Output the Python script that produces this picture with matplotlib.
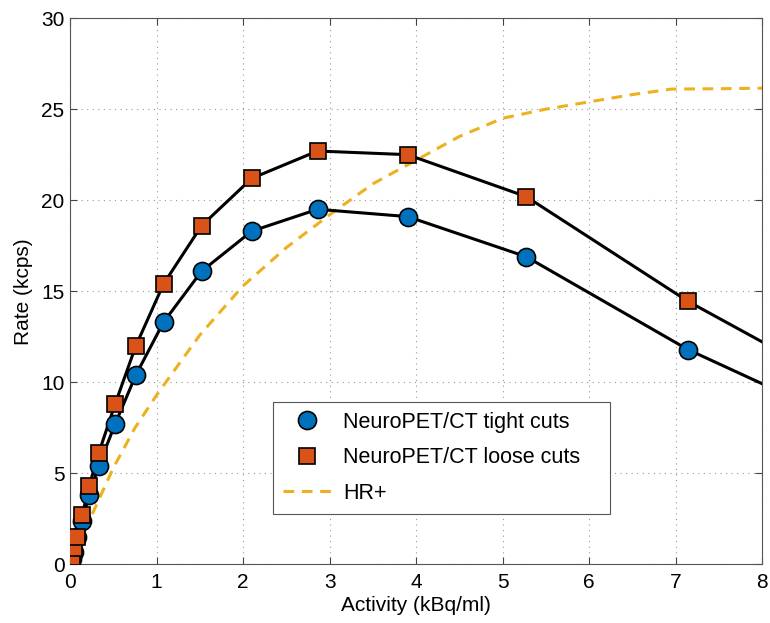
import matplotlib
matplotlib.use("Agg")
import matplotlib.pyplot as plt

plt.rcParams['font.family'] = ['Liberation Sans', 'DejaVu Sans']

# NeuroPET/CT data (kBq/ml vs kcps); last point lies beyond the x-limit
activity = [0.0, 0.02, 0.05, 0.08, 0.14, 0.22, 0.33, 0.52, 0.76, 1.08, 1.52,
            2.10, 2.86, 3.90, 5.27, 7.14, 9.70]
tight = [0.0, 0.3, 0.7, 1.5, 2.4, 3.8, 5.4, 7.7, 10.4, 13.3, 16.1,
         18.3, 19.5, 19.1, 16.9, 11.8, 6.2]
loose = [0.0, 0.4, 0.9, 1.5, 2.7, 4.3, 6.1, 8.8, 12.0, 15.4, 18.6,
         21.2, 22.7, 22.5, 20.2, 14.45, 7.8]

# HR+ reference curve
hr_activity = [0, 0.25, 0.5, 0.75, 1, 1.5, 2, 2.5, 3, 3.5, 4, 4.5, 5, 5.5,
               6, 6.5, 6.95, 7.5, 8]
hr_rate = [0, 2.7, 5.3, 7.5, 9.3, 12.6, 15.3, 17.4, 19.2, 20.9, 22.2, 23.5,
           24.5, 25.0, 25.4, 25.8, 26.1, 26.12, 26.15]

fig, ax = plt.subplots(figsize=(7.7, 6.23), dpi=100)
fig.subplots_adjust(left=0.091, right=0.99, top=0.971, bottom=0.094)

ax.plot(activity, tight, color='black', lw=2.2, zorder=3)
ax.plot(activity, loose, color='black', lw=2.2, zorder=3)
h3, = ax.plot(hr_activity, hr_rate, color='#EDB120', lw=2.2,
              ls=(0, (3.5, 2.5)), label='HR+', zorder=2)

h1, = ax.plot(activity, tight, ls='none', marker='o', ms=13, mfc='#0072BD',
              mec='black', mew=1.2, label='NeuroPET/CT tight cuts', zorder=4)
h2, = ax.plot(activity, loose, ls='none', marker='s', ms=11, mfc='#D95319',
              mec='black', mew=1.2, label='NeuroPET/CT loose cuts', zorder=5)

ax.set_xlim(0, 8)
ax.set_ylim(0, 30)
ax.set_xticks(range(0, 9))
ax.set_yticks(range(0, 31, 5))
ax.grid(True, ls=(0, (1, 4)), color='#999999', lw=0.8)
ax.tick_params(direction='in', top=True, right=True, labelsize=15,
               length=5, color='#444444')
ax.tick_params(axis='x', pad=6)
ax.tick_params(axis='y', pad=4)
for s in ax.spines.values():
    s.set_color('#555555')
    s.set_linewidth(0.8)

ax.set_xlabel('Activity (kBq/ml)', fontsize=15, labelpad=3)
ax.set_ylabel('Rate (kcps)', fontsize=15, labelpad=6)

leg = ax.legend([h1, h2, h3],
                ['NeuroPET/CT tight cuts', 'NeuroPET/CT loose cuts', 'HR+'],
                loc='lower left', bbox_to_anchor=(0.293, 0.093, 0.487, 0.2),
                mode='expand', borderaxespad=0, fontsize=15.5, fancybox=False,
                framealpha=1, edgecolor='#555555', borderpad=0.45,
                labelspacing=0.68, handlelength=2.3, handletextpad=0.5)
leg.get_frame().set_linewidth(0.8)

fig.savefig('out.png', dpi=100)
